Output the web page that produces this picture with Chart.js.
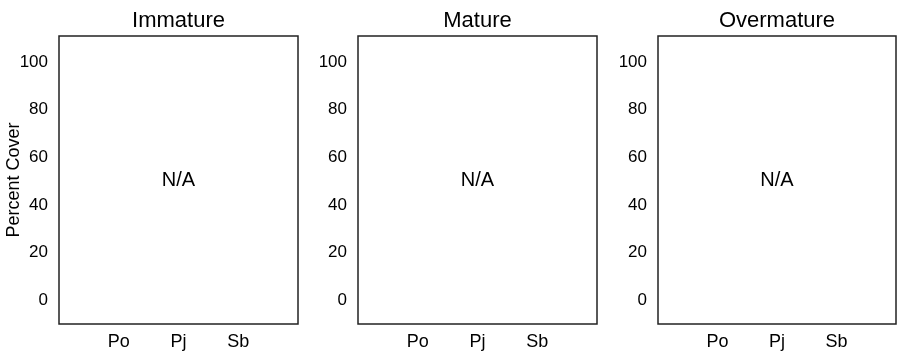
<!DOCTYPE html>
<html>
<head>
<meta charset="utf-8">
<script src="https://cdn.jsdelivr.net/npm/chart.js@4/dist/chart.umd.min.js"></script>
<style>
  html, body { margin: 0; padding: 0; background: #fff; }
  #wrap { position: relative; width: 900px; height: 352px; }
  .panel { position: absolute; top: 0; width: 300px; height: 352px; }
</style>
</head>
<body>
<div id="wrap">
  <div class="panel" style="left:0"><canvas id="c0"></canvas></div>
  <div class="panel" style="left:300px"><canvas id="c1"></canvas></div>
  <div class="panel" style="left:600px"><canvas id="c2"></canvas></div>
</div>
<script>
const stands = ['Immature', 'Mature', 'Overmature'];
const species = ['Po', 'Pj', 'Sb'];
const yTicks = [0, 20, 40, 60, 80, 100];
// no cover measured in any stand class
const coverImmature = [null, null, null];
const coverMature = [null, null, null];
const coverOvermature = [null, null, null];
const coverSeries = [coverImmature, coverMature, coverOvermature];

const FONT = "'Liberation Sans', Arial, Helvetica, sans-serif";

// frame around the plot area plus the "N/A" note
const framePlugin = {
    id: 'frame',
    afterDraw(chart, args, opts) {
        const { left, top, right, bottom } = chart.chartArea;
        const ctx = chart.ctx;
        ctx.save();
        ctx.strokeStyle = '#222';
        ctx.lineWidth = 1.5;
        ctx.strokeRect(left, top, right - left, bottom - top);
        if (opts.text) {
            ctx.fillStyle = '#000';
            ctx.font = '20px ' + FONT;
            ctx.textAlign = 'center';
            ctx.textBaseline = 'middle';
            ctx.fillText(opts.text, (left + right) / 2, (top + bottom) / 2);
        }
        ctx.restore();
    }
};

const axisWidths = [59, 58, 58];
const rightPads = [2, 3, 4];

stands.forEach(function(stand, i) {
    const ctx = document.getElementById('c' + i).getContext('2d');
    new Chart(ctx, {
        type: 'bar',
        data: {
            labels: [''].concat(species, ['']),
            datasets: [{
                data: [null].concat(coverSeries[i], [null]),
                backgroundColor: '#888'
            }]
        },
        options: {
            responsive: true,
            maintainAspectRatio: false,
            animation: false,
            layout: { padding: { left: 0, right: rightPads[i], top: 0, bottom: 0 } },
            plugins: {
                legend: { display: false },
                tooltip: { enabled: false },
                title: {
                    display: true,
                    fullSize: false,
                    text: stand,
                    color: '#000',
                    font: { family: FONT, size: 22, weight: 'normal' },
                    padding: { top: 7.8, bottom: 1.8 }
                },
                frame: { text: 'N/A' }
            },
            scales: {
                x: {
                    offset: false,
                    grid: { display: false, drawTicks: false },
                    border: { display: false },
                    ticks: {
                        color: '#000',
                        font: { family: FONT, size: 18 },
                        padding: 7,
                        maxRotation: 0,
                        autoSkip: false
                    },
                    afterFit: function(scale) {
                        scale.height = 28;
                        scale.paddingLeft = 0;
                        scale.paddingRight = 0;
                    }
                },
                y: {
                    min: -10,
                    max: 111,
                    grid: { display: false, drawTicks: false },
                    border: { display: false },
                    afterBuildTicks: function(scale) {
                        scale.ticks = yTicks.map(function(v) { return { value: v }; });
                    },
                    ticks: {
                        color: '#000',
                        font: { family: FONT, size: 17 },
                        padding: 11
                    },
                    title: {
                        display: i === 0,
                        text: 'Percent Cover',
                        color: '#000',
                        font: { family: FONT, size: 18 },
                        padding: { top: 3, bottom: 0 }
                    },
                    afterFit: function(scale) { scale.width = axisWidths[i]; }
                }
            }
        },
        plugins: [framePlugin]
    });
});
</script>
</body>
</html>
